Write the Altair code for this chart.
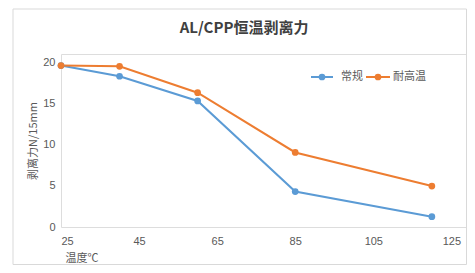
import altair as alt
import pandas as pd

temps = [25, 40, 60, 85, 120]
normal = [19.6, 18.3, 15.3, 4.3, 1.25]
heat = [19.6, 19.5, 16.3, 9.05, 4.97]
series = ["常规", "耐高温"]
colors = ["#5B9BD5", "#ED7D31"]
x_ticks = [25, 45, 65, 85, 105, 125]
y_ticks = [0, 5, 10, 15, 20]
title_text = "AL/CPP恒温剥离力"
x_title = "温度℃"
y_title = "剥离力N/15mm"

df = pd.DataFrame({
    "t": temps * 2,
    "v": normal + heat,
    "s": [series[0]] * len(temps) + [series[1]] * len(temps),
})

W, H = 406, 173
FONT = "Noto Sans CJK SC"

x = alt.X("t:Q", scale=alt.Scale(domain=[25, 129], nice=False, zero=False),
          axis=alt.Axis(values=x_ticks, title=x_title, grid=False, ticks=False, domain=False,
                        labelPadding=8, labelFontSize=11, labelColor="#595959", labelFont="Liberation Sans",
                        titleFont=FONT, titleFontSize=11, titleFontWeight="normal", titleColor="#595959",
                        titleAnchor="start", titleAlign="left", titleX=4, titleY=31, titleBaseline="middle"))
y = alt.Y("v:Q", scale=alt.Scale(domain=[0, 21], nice=False),
          axis=alt.Axis(values=y_ticks, title=y_title, grid=False, ticks=False, domain=False,
                        labelPadding=6, labelFontSize=11, labelColor="#595959", labelFont="Liberation Sans",
                        titleFont=FONT, titleFontSize=11, titleFontWeight="normal", titleColor="#595959",
                        titleAngle=-90, titleX=-28, titleY=H / 2, titleAlign="center", titleBaseline="middle"))
color = alt.Color("s:N", scale=alt.Scale(domain=series, range=colors), legend=None)

base = alt.Chart(df)
lines = base.mark_line(strokeWidth=2).encode(x=x, y=y, color=color)
points = base.mark_point(filled=True, size=45, opacity=1).encode(x=x, y=y, color=color)

frame = alt.Chart(pd.DataFrame({"a": [0]})).mark_rect(fill=None, stroke="#d9d9d9", strokeWidth=1).encode(
    x=alt.value(-48), x2=alt.value(W - 0.5), y=alt.value(-45), y2=alt.value(H + 37.5))

title = alt.Chart(pd.DataFrame({"a": [title_text]})).mark_text(
    font=FONT, fontSize=15, fontWeight="bold", color="#404040", align="center", baseline="middle").encode(
    text="a:N", x=alt.value(183), y=alt.value(-26))

leg_layers = []
leg_pos = [(250, 272, 261, 280), (305, 329, 317, 332)]
for name, col, (x1, x2, xc, xt) in zip(series, colors, leg_pos):
    d = pd.DataFrame({"a": [name]})
    leg_layers.append(alt.Chart(d).mark_rule(color=col, strokeWidth=2).encode(
        x=alt.value(x1), x2=alt.value(x2), y=alt.value(23)))
    leg_layers.append(alt.Chart(d).mark_point(filled=True, size=45, color=col, opacity=1).encode(
        x=alt.value(xc), y=alt.value(23)))
    leg_layers.append(alt.Chart(d).mark_text(font=FONT, fontSize=11, color="#595959", align="left",
                                             baseline="middle").encode(
        text="a:N", x=alt.value(xt), y=alt.value(23)))

chart = alt.layer(frame, lines, points, title, *leg_layers).properties(
    width=W, height=H,
    padding={"left": 53, "top": 46, "right": 0, "bottom": 38},
    autosize=alt.AutoSizeParams(type="none"),
).configure_view(stroke="#d9d9d9", strokeWidth=1).configure(background="white")

chart.save("out.html", embed_options={"renderer": "svg", "actions": False})
